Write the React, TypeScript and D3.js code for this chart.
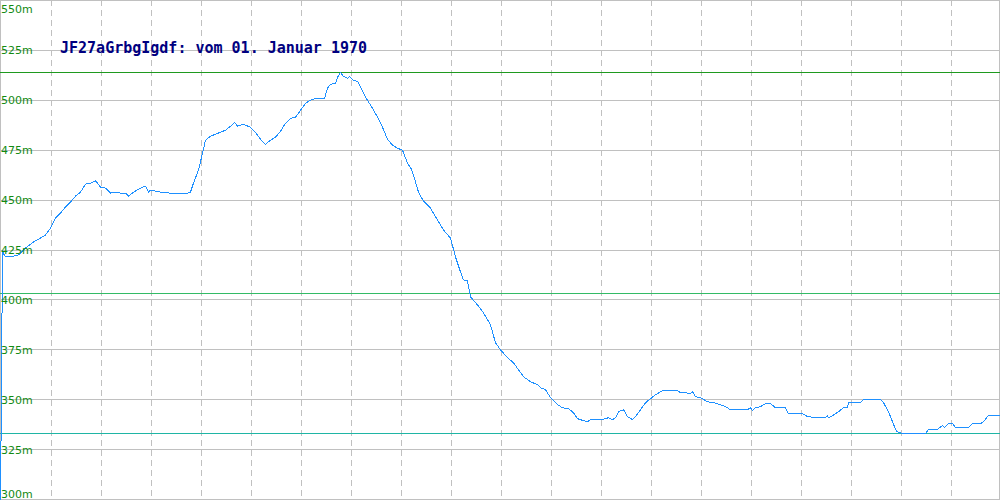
import * as d3 from "d3";

// distance index (pixels along track) and elevation in metres
const dist = [
  0, 2, 4, 10, 18, 25, 33, 40, 45, 50, 55, 60, 65, 70, 75, 80, 85, 90, 95, 100,
  105, 110, 115, 120, 125, 128, 133, 140, 145, 148, 150, 160, 170, 180, 187, 190, 193, 198, 202, 205,
  210, 215, 220, 225, 230, 234, 237, 243, 250, 255, 260, 265, 270, 275, 280, 285, 290, 295, 300, 305,
  310, 315, 324, 327, 330, 335, 337, 340, 343, 347, 349, 353, 357, 360, 363, 367, 372, 377, 382, 387,
  392, 397, 402, 407, 411, 413, 418, 423, 430, 437, 443, 450, 455, 460, 463, 467, 470, 477, 483, 490,
  495, 500, 507, 513, 518, 523, 530, 537, 540, 545, 550, 557, 562, 568, 573, 577, 583, 587, 590, 600,
  605, 608, 612, 615, 618, 623, 627, 632, 635, 640, 645, 650, 655, 662, 677, 680, 685, 690, 692, 695,
  700, 707, 713, 720, 725, 730, 747, 750, 752, 755, 760, 765, 770, 775, 785, 788, 802, 807, 817, 825,
  827, 828, 832, 838, 843, 847, 848, 860, 863, 880, 883, 888, 892, 896, 900, 902, 925, 928, 937, 939,
  942, 944, 948, 952, 955, 968, 972, 980, 983, 987, 988, 999,
];
const elev = [
  296, 425, 422, 421.5, 422.5, 426, 429, 431, 432.5, 436, 441, 443.5, 446.5, 449, 452, 454, 458, 458.5, 459.7, 456.5,
  456, 453.5, 454, 453.5, 453.5, 452, 454, 456, 457, 454, 455, 454, 453.5, 453.5, 453.5, 454, 458.5, 465, 473.5, 480,
  482, 483, 484, 485, 487, 489, 487, 488, 486.5, 484, 480.5, 478, 480, 481.5, 484.5, 488.5, 491, 491.5, 495, 498.5,
  500, 501, 501, 506, 508, 508.5, 511.5, 514, 512, 511, 512, 510, 509.5, 506.5, 503.5, 500, 496, 491.5, 486.5, 480.5,
  477.5, 476, 475, 468.5, 465.5, 462.5, 454, 449.5, 446, 440, 435, 431, 421.5, 414, 410, 409.5, 401.5, 397.5, 393.5, 387.5,
  378.5, 375, 371, 368.5, 365, 361.5, 359, 357.5, 356, 355, 351, 347.5, 346, 345.5, 343.5, 340.5, 339.5, 339, 340, 340,
  340.5, 341, 340, 341, 344, 345, 341.5, 340, 341.5, 345, 348.5, 350.5, 352.5, 354.5, 354.5, 353.5, 353.5, 353, 354, 351.5,
  351, 349, 348.5, 347.5, 346.5, 345, 345, 346, 344.5, 346, 346.5, 348, 348, 346, 346, 343, 343, 341.5, 341, 341,
  342, 341, 342, 344, 346, 346, 348.5, 348.5, 350, 350, 348.5, 344, 339, 334, 333.5, 333, 333, 335, 335, 336,
  337, 336, 338, 338, 336, 336, 338, 338, 339, 341.5, 342, 342,
];

const yTicks = [300, 325, 350, 375, 400, 425, 450, 475, 500, 525, 550];
const xGrid = [50, 100, 150, 200, 250, 300, 350, 400, 450, 500, 550, 600, 650, 700, 750, 800, 850, 900, 950];

const refLines = [
  { value: 514, color: "#1f9a1f" },
  { value: 403, color: "#33bb66" },
  { value: 333, color: "#1fb5a5" },
];

const title = "JF27aGrbgIgdf: vom 01. Januar 1970";

const W = 1000;
const H = 500;

export default function App() {
  const x = d3.scaleLinear().domain([0, 999]).range([0.5, 999.5]);
  const y = d3.scaleLinear().domain([300, 550]).range([499.5, 0.5]);

  const pts = dist.map((d, i) => [d, elev[i]] as [number, number]);
  const line = d3
    .line<[number, number]>()
    .x((d) => x(d[0]))
    .y((d) => y(d[1]));

  return (
    <svg
      width={W}
      height={H}
      style={{ position: "absolute", left: 0, top: 0, background: "#fff" }}
    >
      <rect x={0} y={0} width={W} height={H} fill="#fff" />
      {/* vertical dashed grid */}
      {xGrid.map((g) => (
        <line
          key={"v" + g}
          x1={Math.round(x(g)) + 0.5}
          x2={Math.round(x(g)) + 0.5}
          y1={0}
          y2={H}
          stroke="#c0c0c0"
          strokeDasharray="6,4"
          shapeRendering="crispEdges"
        />
      ))}
      {/* horizontal grid */}
      {yTicks.map((t) => (
        <line
          key={"h" + t}
          x1={0}
          x2={W}
          y1={Math.round(y(t) - 0.5) + 0.5}
          y2={Math.round(y(t) - 0.5) + 0.5}
          stroke="#c0c0c0"
          shapeRendering="crispEdges"
        />
      ))}
      <line x1={0.5} x2={0.5} y1={0} y2={H} stroke="#c0c0c0" shapeRendering="crispEdges" />
      <line x1={999.5} x2={999.5} y1={0} y2={H} stroke="#c0c0c0" shapeRendering="crispEdges" />

      {refLines.map((r) => (
        <line
          key={"r" + r.value}
          x1={0}
          x2={W}
          y1={Math.round(y(r.value) - 0.5) + 0.5}
          y2={Math.round(y(r.value) - 0.5) + 0.5}
          stroke={r.color}
          shapeRendering="crispEdges"
        />
      ))}

      <path
        d={line(pts) ?? ""}
        fill="none"
        stroke="#1e90ff"
        strokeWidth={1}
        shapeRendering="crispEdges"
      />

      {/* y labels */}
      {yTicks.map((t) => {
        const by = Math.min(498, Math.max(13, y(t) + 4));
        return (
          <text
            key={"l" + t}
            x={1}
            y={by}
            fill="#138a13"
            fontFamily="DejaVu Sans, sans-serif"
            fontSize={11}
          >
            {t}m
          </text>
        );
      })}

      <text
        x={60}
        y={53}
        fill="#000080"
        fontFamily="DejaVu Sans Mono, monospace"
        fontSize={15}
        fontWeight="bold"
      >
        {title}
      </text>
    </svg>
  );
}
